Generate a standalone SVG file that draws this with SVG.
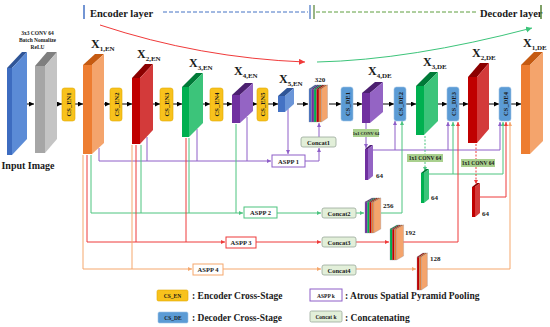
<svg xmlns="http://www.w3.org/2000/svg" width="550" height="327" viewBox="0 0 550 327">
<style>
text{font-family:"Liberation Serif","Times New Roman",serif;font-weight:bold;fill:#1a1a1a}
.lbl{font-size:12px}
.sub{font-size:7px}
.cs{font-size:6.5px}
.ar{fill:none;stroke:#000;stroke-width:1;marker-end:url(#mk)}
.pl{fill:none;stroke:#8e5ec8;stroke-width:1}
.gl{fill:none;stroke:#4cc47f;stroke-width:1}
.rl{fill:none;stroke:#ee3a3a;stroke-width:1}
.ol{fill:none;stroke:#f5a76c;stroke-width:1}
.en{fill:#f8c21c;stroke:#e0a800;stroke-width:0.6}
.de{fill:#5b9bd5;stroke:#9dc3e6;stroke-width:0.6}
.box{fill:#fff;stroke-width:1}
.cc{fill:#e2efd9;stroke:#9aa89a;stroke-width:0.8}
.cv{fill:#a9d08e}
.small{font-size:6.5px}
.leg{font-size:9.5px}
.num{font-size:7px}
</style>
<defs>
<marker id="mk" markerWidth="6" markerHeight="6" refX="5" refY="2.5" orient="auto" markerUnits="userSpaceOnUse"><path d="M0,0L5,2.5L0,5z" fill="#000"/></marker>
<marker id="mp" markerWidth="6" markerHeight="6" refX="4" refY="2" orient="auto" markerUnits="userSpaceOnUse"><path d="M0,0L4,2L0,4z" fill="#8e5ec8"/></marker>
<marker id="mg" markerWidth="6" markerHeight="6" refX="4" refY="2" orient="auto" markerUnits="userSpaceOnUse"><path d="M0,0L4,2L0,4z" fill="#4cc47f"/></marker>
<marker id="mr" markerWidth="6" markerHeight="6" refX="4" refY="2" orient="auto" markerUnits="userSpaceOnUse"><path d="M0,0L4,2L0,4z" fill="#ee3a3a"/></marker>
<marker id="mo" markerWidth="6" markerHeight="6" refX="4" refY="2" orient="auto" markerUnits="userSpaceOnUse"><path d="M0,0L4,2L0,4z" fill="#f5a76c"/></marker>
<marker id="mcr" markerWidth="8" markerHeight="8" refX="6" refY="3" orient="auto" markerUnits="userSpaceOnUse"><path d="M0,0L6,3L0,6z" fill="#f03a3a"/></marker>
<marker id="mcg" markerWidth="8" markerHeight="8" refX="6" refY="3" orient="auto" markerUnits="userSpaceOnUse"><path d="M0,0L6,3L0,6z" fill="#3cc47a"/></marker>
</defs>

<!-- header -->
<g id="header">
<line x1="84" y1="5" x2="84" y2="19" stroke="#4472c4" stroke-width="1.5"/>
<text x="90" y="17" style="font-size:10.5px">Encoder layer</text>
<line x1="163" y1="12" x2="308" y2="12" stroke="#4472c4" stroke-width="1" stroke-dasharray="4,2"/>
<line x1="310" y1="5" x2="310" y2="19" stroke="#4472c4" stroke-width="1.2"/>
<line x1="314" y1="5" x2="314" y2="19" stroke="#548235" stroke-width="1.2"/>
<line x1="316" y1="12" x2="478" y2="12" stroke="#5f9e3f" stroke-width="1" stroke-dasharray="4,2"/>
<text x="480" y="17" style="font-size:10.5px">Decoder layer</text>
<line x1="541" y1="5" x2="541" y2="19" stroke="#548235" stroke-width="1.5"/>
<path d="M100,25 Q200,58 305,62" fill="none" stroke="#f03a3a" stroke-width="1" marker-end="url(#mcr)"/>
<path d="M317,62 Q410,60 532,28" fill="none" stroke="#3cc47a" stroke-width="1" marker-end="url(#mcg)"/>
</g>

<!-- connectors -->
<g id="connectors">
<!-- main flow arrows -->
<path class="ar" d="M22,104H34"/>
<path class="ar" d="M52,104H62"/>
<path class="ar" d="M75,104H83"/>
<path class="ar" d="M102,104H110"/>
<path class="ar" d="M122,104H132"/>
<path class="ar" d="M150,104H160"/>
<path class="ar" d="M173,104H182"/>
<path class="ar" d="M201,104H210"/>
<path class="ar" d="M223,104H232"/>
<path class="ar" d="M248,104H257"/>
<path class="ar" d="M268,104H278"/>
<path class="ar" d="M297,104H308"/>
<path class="ar" d="M329,104H341"/>
<path class="ar" d="M353,104H362"/>
<path class="ar" d="M382,104H394"/>
<path class="ar" d="M406,104H416"/>
<path class="ar" d="M435,104H447"/>
<path class="ar" d="M459,104H468"/>
<path class="ar" d="M487,104H499"/>
<path class="ar" d="M511,104H521"/>

<!-- purple / ASPP1 -->
<path class="pl" d="M99,148V161H271" marker-end="url(#mp)"/>
<path class="pl" d="M147,137V161"/>
<path class="pl" d="M197,129V161"/>
<path class="pl" d="M247,117V161"/>
<path class="pl" d="M288,109V154" marker-end="url(#mp)"/>
<path class="pl" d="M305,161H319V148" marker-end="url(#mp)"/>
<path class="pl" d="M319,137V123" marker-end="url(#mp)"/>
<path class="pl" d="M366,123V129"/>
<path class="pl" d="M366,137V148" marker-end="url(#mp)"/>
<path class="pl" d="M373,150H500V122" marker-end="url(#mp)"/>
<path class="pl" d="M395,150V121" marker-end="url(#mp)"/>
<path class="pl" d="M448,150V122" marker-end="url(#mp)"/>

<!-- green / ASPP2 -->
<path class="gl" d="M91,155V213H243" marker-end="url(#mg)"/>
<path class="gl" d="M141,145V213"/>
<path class="gl" d="M189,138V213"/>
<path class="gl" d="M236,124V213"/>
<path class="gl" d="M277,213H321" marker-end="url(#mg)"/>
<path class="gl" d="M356,213H364" marker-end="url(#mg)"/>
<path class="gl" d="M381,213H402V121" marker-end="url(#mg)"/>
<path class="gl" d="M425,136V154" stroke-dasharray="2,1.5"/>
<path class="gl" d="M425,162V171" stroke-dasharray="2,1.5" marker-end="url(#mg)"/>
<path class="gl" d="M429,174H503V122" marker-end="url(#mg)"/>
<path class="gl" d="M453,174V122" marker-end="url(#mg)"/>

<!-- red / ASPP3 -->
<path class="rl" d="M87,155V242H225" marker-end="url(#mr)"/>
<path class="rl" d="M136,145V242"/>
<path class="rl" d="M186,138V242"/>
<path class="rl" d="M256,242H321" marker-end="url(#mr)"/>
<path class="rl" d="M356,242H389" marker-end="url(#mr)"/>
<path class="rl" d="M403,242H458V122" marker-end="url(#mr)"/>
<path class="rl" d="M476,144V159" stroke-dasharray="2,1.5"/>
<path class="rl" d="M476,167V184" stroke-dasharray="2,1.5" marker-end="url(#mr)"/>
<path class="rl" d="M480,197H506V122" marker-end="url(#mr)"/>

<!-- orange / ASPP4 -->
<path class="ol" d="M83,155V269H192" marker-end="url(#mo)"/>
<path class="ol" d="M132,145V269"/>
<path class="ol" d="M223,269H321" marker-end="url(#mo)"/>
<path class="ol" d="M356,269H416" marker-end="url(#mo)"/>
<path class="ol" d="M427,269H510V122" marker-end="url(#mo)"/>
</g>

<!-- input & first conv -->
<g id="input">
<polygon points="7,68 12,68 27,52 22,52" fill="#2f5597"/>
<rect x="7" y="68" width="5" height="87" fill="#3d6cc0"/>
<polygon points="12,68 27,52 27,139 12,155" fill="#5b8bd6"/>
<text x="28" y="169" text-anchor="middle" style="font-size:10px">Input Image</text>
</g>
<g id="conv0">
<polygon points="35,66 45,66 57,52 47,52" fill="#7f7f7f"/>
<rect x="35" y="66" width="10" height="87" fill="#a6a6a6"/>
<polygon points="45,66 57,52 57,139 45,153" fill="#c4c4c4"/>
<text x="37.5" y="35" text-anchor="middle" style="font-size:5.5px">3x3 CONV 64</text>
<text x="37.5" y="42" text-anchor="middle" style="font-size:5.5px">Batch Nomalize</text>
<text x="37.5" y="49" text-anchor="middle" style="font-size:5.5px">ReLU</text>
</g>

<!-- encoder blocks -->
<g id="x1en">
<polygon points="83,65 92,65 104,54 95,54" fill="#c55a11"/>
<rect x="83" y="65" width="9" height="89" fill="#ed7d31"/>
<polygon points="92,65 104,54 104,143 92,154" fill="#f4a46c"/>
<text x="91" y="48" class="lbl">X<tspan class="sub" dy="3">1,EN</tspan></text>
</g>
<g id="x2en">
<polygon points="132,78 140,78 153,64 145,64" fill="#8b0000"/>
<rect x="132" y="78" width="8" height="66" fill="#c00000"/>
<polygon points="140,78 153,64 153,130 140,144" fill="#d33a3a"/>
<text x="137" y="58" class="lbl">X<tspan class="sub" dy="3">2,EN</tspan></text>
</g>
<g id="x3en">
<polygon points="182,87 189,87 203,73 196,73" fill="#007a38"/>
<rect x="182" y="87" width="7" height="50" fill="#00b050"/>
<polygon points="189,87 203,73 203,123 189,137" fill="#3cc47a"/>
<text x="189" y="67" class="lbl">X<tspan class="sub" dy="3">3,EN</tspan></text>
</g>
<g id="x4en">
<polygon points="232,95 240,95 253,83 245,83" fill="#4b1f70"/>
<rect x="232" y="95" width="8" height="28" fill="#7030a0"/>
<polygon points="240,95 253,83 253,111 240,123" fill="#9464c4"/>
<text x="234" y="75" class="lbl">X<tspan class="sub" dy="3">4,EN</tspan></text>
</g>
<g id="x5en">
<polygon points="278,96 285,96 294,88 287,88" fill="#2f5597"/>
<rect x="278" y="96" width="7" height="16" fill="#4472c4"/>
<polygon points="285,96 294,88 294,104 285,112" fill="#6a95d8"/>
<text x="279" y="83" class="lbl">X<tspan class="sub" dy="3">5,EN</tspan></text>
</g>

<!-- cross-stage boxes -->
<g id="cs_en1"><rect class="en" x="62" y="88" width="13" height="33" rx="2.5"/><text class="cs" transform="translate(71,104.5) rotate(-90)" text-anchor="middle">CS_EN1</text></g>
<g id="cs_en2"><rect class="en" x="110" y="88" width="12" height="33" rx="2.5"/><text class="cs" transform="translate(118.5,104.5) rotate(-90)" text-anchor="middle">CS_EN2</text></g>
<g id="cs_en3"><rect class="en" x="160" y="88" width="13" height="33" rx="2.5"/><text class="cs" transform="translate(169,104.5) rotate(-90)" text-anchor="middle">CS_EN3</text></g>
<g id="cs_en4"><rect class="en" x="210" y="88" width="13" height="33" rx="2.5"/><text class="cs" transform="translate(219,104.5) rotate(-90)" text-anchor="middle">CS_EN4</text></g>
<g id="cs_en5"><rect class="en" x="257" y="88" width="11" height="33" rx="2.5"/><text class="cs" transform="translate(265,104.5) rotate(-90)" text-anchor="middle">CS_EN5</text></g>
<g id="cs_de1"><rect class="de" x="341" y="87" width="12" height="34" rx="2.5"/><text class="cs" transform="translate(349.5,104) rotate(-90)" text-anchor="middle">CS_DE1</text></g>
<g id="cs_de2"><rect class="de" x="394" y="87" width="12" height="34" rx="2.5"/><text class="cs" transform="translate(402.5,104) rotate(-90)" text-anchor="middle">CS_DE2</text></g>
<g id="cs_de3"><rect class="de" x="447" y="87" width="12" height="34" rx="2.5"/><text class="cs" transform="translate(455.5,104) rotate(-90)" text-anchor="middle">CS_DE3</text></g>
<g id="cs_de4"><rect class="de" x="499" y="87" width="12" height="34" rx="2.5"/><text class="cs" transform="translate(507.5,104) rotate(-90)" text-anchor="middle">CS_DE4</text></g>

<!-- concat stack 320 -->
<g id="stack320" stroke="#8a8a9a" stroke-width="0.3">
<rect x="309" y="89" width="2.5" height="33" fill="#4472c4"/><polygon points="309,89 311.5,89 317.5,85 315,85" fill="#2f5597"/>
<rect x="311.5" y="89" width="2.5" height="33" fill="#7030a0"/><polygon points="311.5,89 314,89 320,85 317.5,85" fill="#4b1f70"/>
<rect x="314" y="89" width="2.5" height="33" fill="#00b050"/><polygon points="314,89 316.5,89 322.5,85 320,85" fill="#007a38"/>
<rect x="316.5" y="89" width="2.5" height="33" fill="#c00000"/><polygon points="316.5,89 319,89 325,85 322.5,85" fill="#8b0000"/>
<rect x="319" y="89" width="2.5" height="33" fill="#ed7d31"/><polygon points="319,89 321.5,89 327.5,85 325,85" fill="#c55a11"/>
<polygon points="321.5,89 327.5,85 327.5,118 321.5,122" fill="#f4a46c"/>
<text x="320" y="82" class="num" text-anchor="middle" stroke="none">320</text>
</g>

<!-- decoder blocks -->
<g id="x4de">
<polygon points="362,93 370,93 383,82 375,82" fill="#4b1f70"/>
<rect x="362" y="93" width="8" height="30" fill="#7030a0"/>
<polygon points="370,93 383,82 383,112 370,123" fill="#9464c4"/>
<text x="368" y="75" class="lbl">X<tspan class="sub" dy="3">4,DE</tspan></text>
</g>
<g id="x3de">
<polygon points="416,86 424,86 438,72 430,72" fill="#007a38"/>
<rect x="416" y="86" width="8" height="49" fill="#00b050"/>
<polygon points="424,86 438,72 438,121 424,135" fill="#3cc47a"/>
<text x="423" y="66" class="lbl">X<tspan class="sub" dy="3">3,DE</tspan></text>
</g>
<g id="x2de">
<polygon points="468,77 477,77 489,63 480,63" fill="#8b0000"/>
<rect x="468" y="77" width="9" height="66" fill="#c00000"/>
<polygon points="477,77 489,63 489,129 477,143" fill="#d33a3a"/>
<text x="472" y="57" class="lbl">X<tspan class="sub" dy="3">2,DE</tspan></text>
</g>
<g id="x1de">
<polygon points="521,65 530,65 543,52 534,52" fill="#c55a11"/>
<rect x="521" y="65" width="9" height="89" fill="#ed7d31"/>
<polygon points="530,65 543,52 543,141 530,154" fill="#f4a46c"/>
<text x="523" y="47" class="lbl">X<tspan class="sub" dy="3">1,DE</tspan></text>
</g>

<!-- 1x1 conv boxes and small blocks -->
<g id="conv1x1_a"><rect class="cv" x="353" y="129" width="26" height="8"/><text x="366" y="135" text-anchor="middle" style="font-size:4.5px">1x1 CONV 64</text></g>
<g id="conv1x1_b"><rect class="cv" x="407" y="154" width="36" height="8"/><text x="425" y="160" text-anchor="middle" style="font-size:5.5px">1x1 CONV 64</text></g>
<g id="conv1x1_c"><rect class="cv" x="461" y="159" width="34" height="8"/><text x="478" y="165" text-anchor="middle" style="font-size:5.5px">1x1 CONV 64</text></g>

<g id="p64">
<polygon points="365,149 368,149 373,145 370,145" fill="#4b1f70"/>
<rect x="365" y="149" width="3" height="31" fill="#7030a0"/>
<polygon points="368,149 373,145 373,176 368,180" fill="#9464c4"/>
<text x="376" y="178" class="num">64</text>
</g>
<g id="g64">
<polygon points="421,173 424,173 429,169 426,169" fill="#007a38"/>
<rect x="421" y="173" width="3" height="30" fill="#00b050"/>
<polygon points="424,173 429,169 429,199 424,203" fill="#3cc47a"/>
<text x="431" y="200" class="num">64</text>
</g>
<g id="r64">
<polygon points="472,187 475,187 480,183 477,183" fill="#8b0000"/>
<rect x="472" y="187" width="3" height="30" fill="#c00000"/>
<polygon points="475,187 480,183 480,213 475,217" fill="#d33a3a"/>
<text x="482" y="216" class="num">64</text>
</g>

<!-- ASPP boxes -->
<g id="aspp1"><rect class="box" x="272" y="155" width="33" height="12" stroke="#8e5ec8"/><text x="288.5" y="163.5" text-anchor="middle" class="small">ASPP 1</text></g>
<g id="aspp2"><rect class="box" x="244" y="207" width="33" height="11" stroke="#4cc47f"/><text x="260.5" y="215" text-anchor="middle" class="small">ASPP 2</text></g>
<g id="aspp3"><rect class="box" x="226" y="237" width="30" height="11" stroke="#ee3a3a"/><text x="241" y="245" text-anchor="middle" class="small">ASPP 3</text></g>
<g id="aspp4"><rect class="box" x="193" y="264" width="30" height="11" stroke="#f5a76c"/><text x="208" y="272" text-anchor="middle" class="small">ASPP 4</text></g>

<!-- concat boxes -->
<g id="concat1"><rect class="cc" x="301" y="137" width="35" height="10" rx="2"/><text x="318.5" y="144.5" text-anchor="middle" class="small">Concat1</text></g>
<g id="concat2"><rect class="cc" x="322" y="208" width="34" height="10" rx="2"/><text x="339" y="215.5" text-anchor="middle" class="small">Concat2</text></g>
<g id="concat3"><rect class="cc" x="322" y="237" width="34" height="10" rx="2"/><text x="339" y="244.5" text-anchor="middle" class="small">Concat3</text></g>
<g id="concat4"><rect class="cc" x="322" y="265" width="34" height="10" rx="2"/><text x="339" y="272.5" text-anchor="middle" class="small">Concat4</text></g>

<!-- stacks -->
<g id="stack256" stroke="#8a8a9a" stroke-width="0.3">
<rect x="365" y="202" width="2.2" height="31" fill="#7030a0"/><polygon points="365,202 367.2,202 374.2,198 372,198" fill="#4b1f70"/>
<rect x="367.2" y="202" width="2.2" height="31" fill="#00b050"/><polygon points="367.2,202 369.4,202 376.4,198 374.2,198" fill="#007a38"/>
<rect x="369.4" y="202" width="2.2" height="31" fill="#c00000"/><polygon points="369.4,202 371.6,202 378.6,198 376.4,198" fill="#8b0000"/>
<rect x="371.6" y="202" width="2.2" height="31" fill="#ed7d31"/><polygon points="371.6,202 373.8,202 380.8,198 378.6,198" fill="#c55a11"/>
<polygon points="373.8,202 380.8,198 380.8,229 373.8,233" fill="#f4a46c"/>
<text x="383" y="208" class="num" stroke="none">256</text>
</g>
<g id="stack192" stroke="#8a8a9a" stroke-width="0.3">
<rect x="390" y="229" width="2.2" height="31" fill="#00b050"/><polygon points="390,229 392.2,229 399.2,225 397,225" fill="#007a38"/>
<rect x="392.2" y="229" width="2.2" height="31" fill="#c00000"/><polygon points="392.2,229 394.4,229 401.4,225 399.2,225" fill="#8b0000"/>
<rect x="394.4" y="229" width="2.2" height="31" fill="#ed7d31"/><polygon points="394.4,229 396.6,229 403.6,225 401.4,225" fill="#c55a11"/>
<polygon points="396.6,229 403.6,225 403.6,256 396.6,260" fill="#f4a46c"/>
<text x="405" y="235" class="num" stroke="none">192</text>
</g>
<g id="stack128" stroke="#8a8a9a" stroke-width="0.3">
<rect x="417" y="257" width="2.2" height="33" fill="#c00000"/><polygon points="417,257 419.2,257 425.2,253 423,253" fill="#8b0000"/>
<rect x="419.2" y="257" width="2.2" height="33" fill="#ed7d31"/><polygon points="419.2,257 421.4,257 427.4,253 425.2,253" fill="#c55a11"/>
<polygon points="421.4,257 427.4,253 427.4,286 421.4,290" fill="#f4a46c"/>
<text x="430" y="261" class="num" stroke="none">128</text>
</g>

<!-- legend -->
<g id="legend">
<rect class="en" x="157" y="290" width="31" height="11" rx="1.5"/><text x="172.5" y="297.8" text-anchor="middle" style="font-size:5.5px">CS_EN</text>
<text x="192" y="299" class="leg">: Encoder Cross-Stage</text>
<rect class="de" x="158" y="312" width="30" height="11" rx="1.5"/><text x="173" y="319.8" text-anchor="middle" style="font-size:5.5px">CS_DE</text>
<text x="192" y="321" class="leg">: Decoder Cross-Stage</text>
<rect class="box" x="310" y="289" width="32" height="12" stroke="#8e5ec8"/><text x="326" y="297.5" text-anchor="middle" style="font-size:5.5px">ASPP k</text>
<text x="345" y="299" class="leg">: Atrous Spatial Pyramid Pooling</text>
<rect class="cc" x="310" y="311" width="32" height="11" rx="1.5"/><text x="326" y="319" text-anchor="middle" style="font-size:5.5px">Concat k</text>
<text x="345" y="321" class="leg">: Concatenating</text>
</g>
</svg>
